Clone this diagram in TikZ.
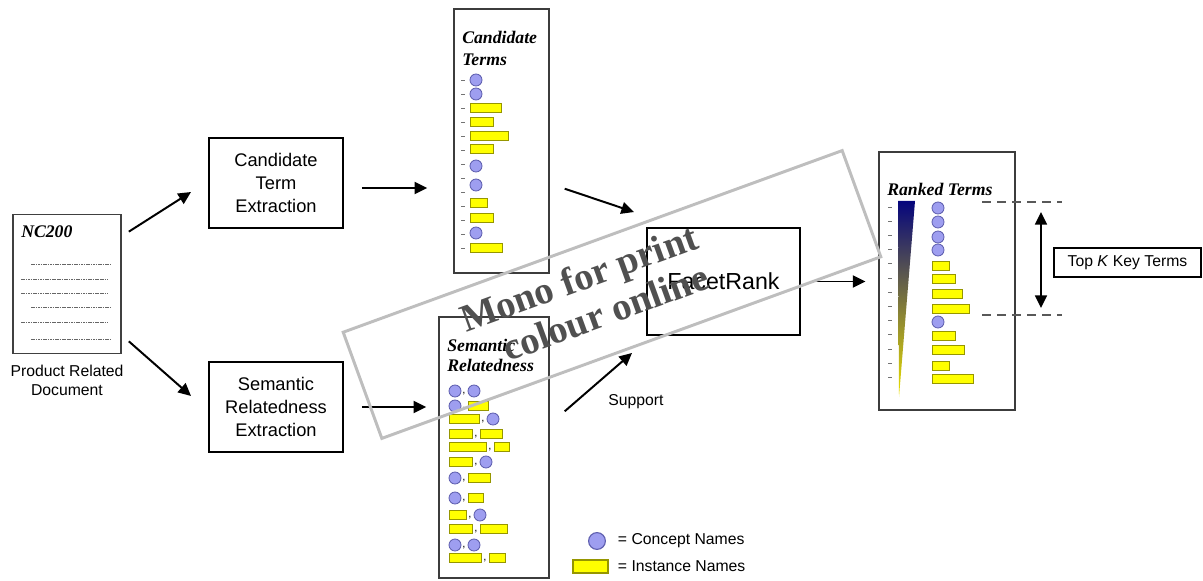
\documentclass[tikz,border=0pt]{standalone}
\usepackage{fontspec}
\setmainfont{Liberation Serif}
\setsansfont{Liberation Sans}
\usepackage{xcolor}
\usepackage{tikz}
\usetikzlibrary{
  arrows.meta,
  positioning
}
\definecolor{ConceptFill}{RGB}{158, 158, 240}
\definecolor{ConceptEdge}{RGB}{95, 95, 175}
\definecolor{InstFill}{RGB}{255, 255, 0}
\definecolor{InstEdge}{RGB}{150, 150, 0}
\definecolor{RankNavy}{RGB}{5, 5, 125}
\definecolor{RankYellow}{RGB}{235, 225, 0}
\definecolor{PanelGray}{RGB}{60, 60, 60}
\definecolor{MarkGray}{RGB}{190, 190, 190}
\definecolor{MarkText}{RGB}{80, 80, 80}
\tikzset{
  procbox/.style={draw, line width=1.4pt, minimum width=134*0.25mm, minimum height=90*0.25mm,
    align=center, font=\sffamily\fontsize{13}{16.6}\selectfont},
  panel/.style={draw=PanelGray, line width=1pt, inner sep=0pt},
  concept/.style={draw=ConceptEdge, fill=ConceptFill, line width=0.6pt},
  inst/.style={draw=InstEdge, fill=InstFill, line width=0.6pt},
  flow/.style={-{Triangle[length=9pt,width=8.5pt]}, line width=1.4pt},
  rowmark/.style={draw=black!55, line width=0.6pt},
  docline/.style={draw=black!60, line width=0.6pt, dash pattern=on 1.2pt off 0.5pt},
  ptitle/.style={font=\fontsize{12.6}{15}\selectfont\bfseries\itshape, inner sep=0pt, anchor=west},
  lbl/.style={font=\sffamily\fontsize{11.2}{13.5}\selectfont, align=center},
  sep/.style={font=\sffamily\fontsize{8}{8}\selectfont, inner sep=0pt},
  wmtext/.style={font=\fontsize{27.5}{30}\selectfont\bfseries, text=MarkText, rotate=20, inner sep=0pt, anchor=base west},
  topline/.style={draw=black!65, line width=1pt, dash pattern=on 6.4pt off 4.3pt}
}
\newcommand{\termitem}[3]{%
  \ifnum#3=0\relax
    \draw[concept] (#1+6,#2) circle (1.5mm);
  \else
    \draw[inst] (#1,#2-4.5) rectangle ++(#3,9);
  \fi}

\begin{document}
\begin{tikzpicture}[x=0.25mm, y=-0.25mm]
  \useasboundingbox (0,0) rectangle (1203,581);

  % source document
  \node[panel, draw=black!75, line width=1.2pt, minimum width=108*0.25mm, minimum height=139*0.25mm] (nc) at (67,284) {};
  \node[ptitle] (nctitle) at (21,232) {NC200};
  \foreach \y/\a/\b in {264/31/110, 279/21/108, 293/21/108, 307/31/110, 322/21/108, 339/31/110}
    \draw[docline] (\a,\y) -- (\b,\y);
  \node[lbl] (doclbl) at (67,380.5) {Product Related\\Document};

  % extraction steps
  \node[procbox] (cte) at (276,183) {Candidate\\Term\\Extraction};
  \node[procbox] (sre) at (276,407) {Semantic\\Relatedness\\Extraction};

  % candidate terms
  \node[panel, minimum width=95*0.25mm, minimum height=264*0.25mm] (cand) at (501.5,141) {};
  \node[ptitle, align=left, anchor=north west, font=\fontsize{12.6}{15.6}\selectfont\bfseries\itshape] (candtitle) at (462,31) {Candidate\\Terms};
  \foreach \i in {0,...,12}
    \draw[rowmark] (461,80+14*\i) -- (465,80+14*\i);
  \foreach \y/\w in {80/0, 94/0, 108/31, 122/23, 136/38, 149/23, 166/0, 185/0, 203/17, 218/23, 233/0, 248/32}
    {\termitem{470}{\y}{\w}}

  % semantic relatedness
  \node[panel, minimum width=110*0.25mm, minimum height=261*0.25mm] (sem) at (494,447.5) {};
  \node[ptitle, align=left, anchor=north west, font=\fontsize{12.6}{14.3}\selectfont\bfseries\itshape] (semtitle) at (447,339) {Semantic\\Relatedness};
  \foreach \y/\a/\b [count=\i] in {391/0/0, 406/0/20, 419/30/0, 434/23/22, 447/37/15, 462/23/0,
      478/0/22, 498/0/15, 515/17/0, 529/23/27, 545/0/0, 558/32/16} {
    \pgfmathsetmacro\le{\a==0 ? 460 : 449+\a}
    \termitem{449}{\y}{\a}
    \node[sep] (sc\i) at (\le+4,\y+3) {,};
    \termitem{\le+8}{\y}{\b}
  }

  % ranking
  \node[procbox, minimum width=153*0.25mm, minimum height=107*0.25mm, font=\sffamily\fontsize{16.5}{20}\selectfont] (facet) at (723.5,281.5) {FacetRank};
  \node[lbl] (support) at (636,402) {Support};

  % ranked terms
  \node[panel, minimum width=136*0.25mm, minimum height=258*0.25mm] (rank) at (947,281) {};
  \node[ptitle] (ranktitle) at (887,189) {Ranked Terms};
  \shade[top color=RankNavy, bottom color=RankYellow] (898,201) -- (915,201) -- (899,397) -- cycle;
  \foreach \i in {0,...,12}
    \draw[rowmark] (888,207+14.2*\i) -- (892,207+14.2*\i);
  \foreach \y/\w in {208/0, 222/0, 237/0, 250/0, 266/17, 279/23, 294/30, 309/37, 322/0, 336/23, 350/32, 366/17, 379/41}
    {\termitem{932}{\y}{\w}}

  % top k
  \draw[topline] (982,202) -- (1062,202);
  \draw[topline] (982,315) -- (1062,315);
  \coordinate (ktop) at (1041,212);
  \coordinate (kbot) at (1041,308);
  \draw[{Triangle[length=9pt,width=8.5pt]}-{Triangle[length=9pt,width=8.5pt]}, line width=1.3pt] (ktop) -- (kbot);
  \node[lbl, draw, line width=0.8pt, minimum width=147*0.25mm, minimum height=29*0.25mm] (topk) at (1127.5,262.5) {Top \textit{K} Key Terms};

  % legend
  \draw[concept, line width=0.8pt] (597,541) circle (2.1mm);
  \node[lbl, anchor=west] (cname) at (613,541) {= Concept Names};
  \draw[inst, line width=0.8pt] (573,560) rectangle (608,573);
  \node[lbl, anchor=west] (iname) at (613,566) {= Instance Names};

  % flow
  \draw[flow] ([shift={(7,18)}]nc.north east) -- ([shift={(-17,55)}]cte.north west);
  \draw[flow] ([shift={(7,-13)}]nc.south east) -- ([shift={(-17,-57)}]sre.south west);
  \draw[flow, shorten <=4.5mm, shorten >=6.5mm] ([yshift=-1.25mm]cte.east) -- ([yshift=-1.25mm]cte.east -| cand.west);
  \draw[flow, shorten <=4.5mm, shorten >=3mm] (sre.east) -- (sre.east -| sem.west);
  \draw[flow] ([shift={(15,-85)}]cand.south east) -- ([shift={(-12,-15)}]facet.north west);
  \draw[flow] ([shift={(15,95)}]sem.north east) -- ([shift={(-14,17)}]facet.south west);
  \draw[flow, shorten <=2.5mm, shorten >=3.2mm] (facet.east) -- (facet.east -| rank.west);

  % watermark
  \node[draw=MarkGray, line width=2.1pt, rotate=20, minimum width=531*0.25mm, minimum height=113*0.25mm] (wm) at (612,294.5) {};
  \node[wmtext] (wm1) at (466,333) {Mono for print};
  \node[wmtext] (wm2) at (508,362) {colour online};
\end{tikzpicture}
\end{document}
